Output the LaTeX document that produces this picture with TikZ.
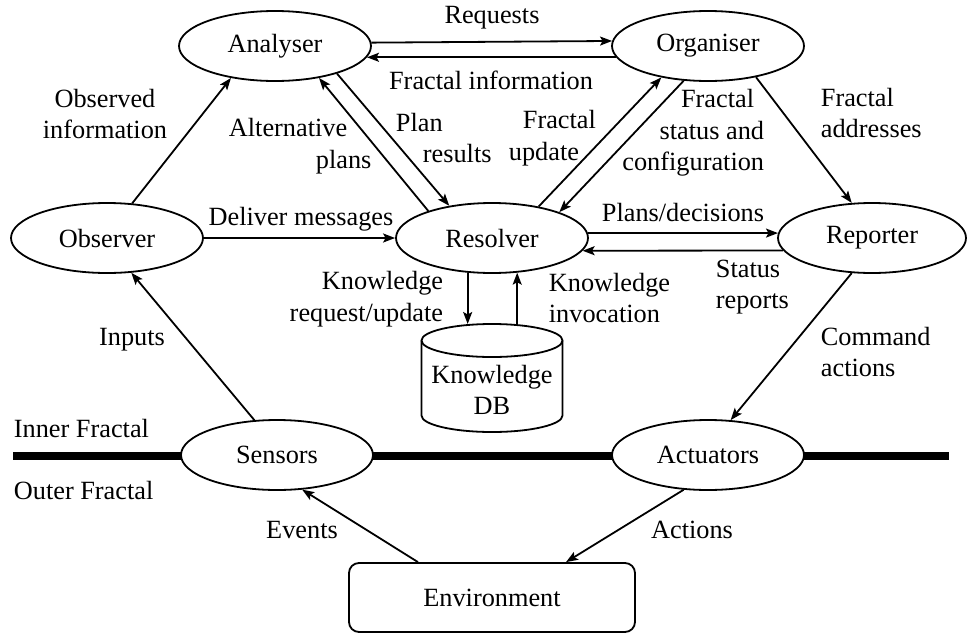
\documentclass[tikz,border=0pt]{standalone}
\usepackage{fontspec}
\setmainfont{Liberation Serif}
\usetikzlibrary{shapes.geometric,arrows.meta}
\newcommand\diagfont{\fontsize{26.3pt}{31.5pt}\selectfont}
\begin{document}
\begin{tikzpicture}[x=1pt,y=-1pt,
  font=\diagfont,
  line width=1.8pt,
  proc/.style={ellipse,draw,fill=white,inner sep=0pt,minimum width=192pt,minimum height=70pt},
  arr/.style={-{Stealth[length=12pt,width=9pt,inset=2.5pt]}},
  lbl/.style={inner sep=0pt},
  bar/.style={line width=8pt}]
\useasboundingbox (0,0) rectangle (967,635);

% boundary between the inner and the outer fractal
\coordinate (barL) at (13,456);
\coordinate (barR) at (949,456);
\draw[bar] (barL) -- (barR);

% processes
\node[proc] (analyser)  at (275,46)  {Analyser};
\node[proc] (organiser) at (708,46)  {Organiser};
\node[proc] (observer)  at (107,238) {Observer};
\node[proc] (resolver)  at (492,238) {Resolver};
\node[proc,minimum width=188pt] (reporter) at (872,238) {Reporter};
\node[proc] (sensors)   at (277,455) {Sensors};
\node[proc] (actuators) at (708,455) {Actuators};

% knowledge store: a cylinder drawn round the box of node db
\node[inner sep=0pt,outer sep=0pt,minimum width=141pt,minimum height=108pt] (db) at (492,378) {};
\draw ([yshift=-16.5pt]db.north west) -- ([yshift=16.5pt]db.south west)
      arc[start angle=180,end angle=360,x radius=70.5pt,y radius=16.5pt]
      -- ([yshift=-16.5pt]db.north east);
\draw ([yshift=-16.5pt]db.north) ellipse[x radius=70.5pt,y radius=16.5pt];
\node[lbl,align=center] (tDB) at (492,390) {Knowledge\\DB};

% environment
\node[draw,rounded corners=10pt,minimum width=286pt,minimum height=69pt,inner sep=0pt] (env) at (492,597.5) {Environment};

% flows between the processes
\draw[arr] (observer.54) -- (analyser.-144);
\draw[arr] (analyser.2.5) -- (organiser.177.5);
\draw[arr] (organiser.-173) -- (analyser.-7);
\draw[arr] (analyser.-24) -- (resolver.143);
\draw[arr] (resolver.157) -- (analyser.-36);
\draw[arr] (resolver.34.5) -- (organiser.-146);
\draw[arr] (organiser.-125) -- (resolver.21);
\draw[arr] (organiser.-33) -- (reporter.120);
\draw[arr] (observer.east) -- (resolver.west);
\draw[arr] (resolver.3) -- (reporter.177);
\draw[arr] (reporter.-172) -- (resolver.-8);
\draw[arr] (resolver.-125.3) -- (resolver.-125.3 |- db.north);
\draw[arr] (db.north -| resolver.-54.7) -- (resolver.-54.7);
\draw[arr] (sensors.123) -- (observer.-55);
\draw[arr] (reporter.-120) -- (actuators.57);
\draw[arr] ([xshift=-74pt]env.north) -- (sensors.-54.5);
\draw[arr] (actuators.-125.5) -- ([xshift=74pt]env.north);

% flow labels
\node[lbl] (tReq) at (492,18) {Requests};
\node[lbl] (tFInfo) at (491,80) {Fractal information};
\node[lbl,align=center] (tObs) at (105,114) {Observed\\information};
\node[lbl,align=left,anchor=west] (tAlt) at (228,146) {Alternative\\\hspace*{87pt}plans};
\node[lbl,align=left,anchor=west] (tPlan) at (395,138) {Plan\\\hspace*{27pt}results};
\node[lbl,align=left,anchor=west] (tFUpd) at (508,138) {\hspace*{14pt}Fractal\\update};
\node[lbl,align=right,anchor=east] (tFStat) at (765,133) {Fractal\hspace*{10pt}\\status and\hspace*{12pt}\\configuration};
\node[lbl,align=left,anchor=west] (tFAddr) at (820,113) {Fractal\\addresses};
\node[lbl] (tDel) at (301,219) {Deliver messages};
\node[lbl] (tPD) at (683,213) {Plans/decisions};
\node[lbl,align=left,anchor=west] (tStat) at (715,287) {Status\\reports};
\node[lbl,align=right,anchor=east] (tKReq) at (444,299) {Knowledge\\request/update};
\node[lbl,align=left,anchor=west] (tKInv) at (548,298) {Knowledge\\invocation};
\node[lbl] (tIn) at (132,340) {Inputs};
\node[lbl,align=left,anchor=west] (tCmd) at (820,352) {Command\\actions};
\node[lbl,anchor=west] (tInner) at (13,428) {Inner Fractal};
\node[lbl,anchor=west] (tOuter) at (13,490) {Outer Fractal};
\node[lbl] (tEv) at (302,530) {Events};
\node[lbl] (tAct) at (692,530) {Actions};
\end{tikzpicture}
\end{document}
